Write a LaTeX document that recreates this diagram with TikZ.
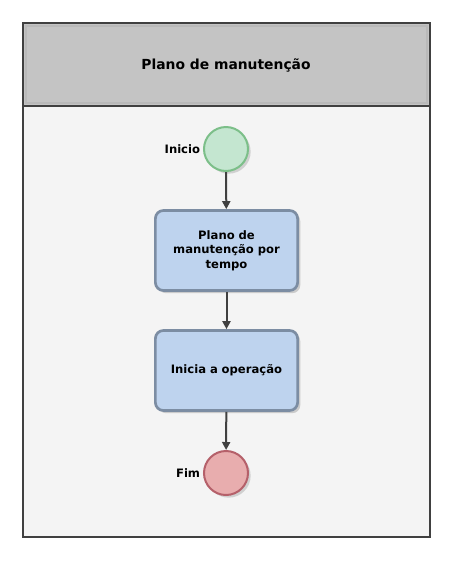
\documentclass[tikz,border=0pt]{standalone}
\usepackage{fontspec}
\setmainfont{DejaVu Sans}
\usepackage{tikz}
\usetikzlibrary{arrows.meta,shadows}

\definecolor{frameln}{HTML}{404040}
\definecolor{headfill}{HTML}{C4C4C4}
\definecolor{bodyfill}{HTML}{F4F4F4}
\definecolor{taskfill}{HTML}{BED3EE}
\definecolor{taskln}{HTML}{7C8DA3}
\definecolor{startfill}{HTML}{C4E6D0}
\definecolor{startln}{HTML}{7CBF89}
\definecolor{endfill}{HTML}{E8ADAE}
\definecolor{endln}{HTML}{B5606A}

\begin{document}
\begin{tikzpicture}[x=0.75pt, y=-0.75pt,
  task/.style={draw=taskln, fill=taskfill, line width=2pt, rounded corners=6pt,
               align=center, font=\bfseries\fontsize{8.7}{10.9}\selectfont,
               minimum width=105pt, minimum height=60pt, text width=100pt,
               drop shadow={shadow xshift=2pt, shadow yshift=-2pt, opacity=.35}},
  event/.style={circle, line width=1.5pt, minimum size=33pt, inner sep=0pt,
                drop shadow={shadow xshift=2pt, shadow yshift=-2pt, opacity=.3}},
  lbl/.style={font=\bfseries\fontsize{8.7}{10}\selectfont, inner sep=2pt},
  >={Triangle[length=6pt, width=6pt]}]
  \useasboundingbox (0,0) rectangle (462,562);
  % pool with header
  \fill[bodyfill] (23,106) rectangle (430,537);
  \fill[headfill] (23,23) rectangle (430,106);
  \draw[gray!55, line width=1.5pt] (26,26) rectangle (427,103);
  \draw[frameln, line width=1.6pt] (23,23) rectangle (430,537);
  \draw[frameln, line width=1.6pt] (23,106) -- (430,106);
  \node[font=\bfseries\fontsize{10.4}{12}\selectfont] (title) at (226,65) {Plano de manutenção};
  % flow
  \node[event, draw=startln, fill=startfill,
        label={[lbl]left:Inicio}] (start) at (226,149) {};
  \node[task] (plan) at (226.5,250.5) {Plano de\\manutenção por\\tempo};
  \node[task] (oper) at (226.5,370.5) {Inicia a operação};
  \node[event, draw=endln, fill=endfill,
        label={[lbl]left:Fim}] (end) at (226,473) {};
  \draw[->, frameln, line width=1.5pt] (start) -- (plan);
  \draw[->, frameln, line width=1.5pt] (plan) -- (oper);
  \draw[->, frameln, line width=1.5pt] (oper) -- (end);
\end{tikzpicture}
\end{document}
